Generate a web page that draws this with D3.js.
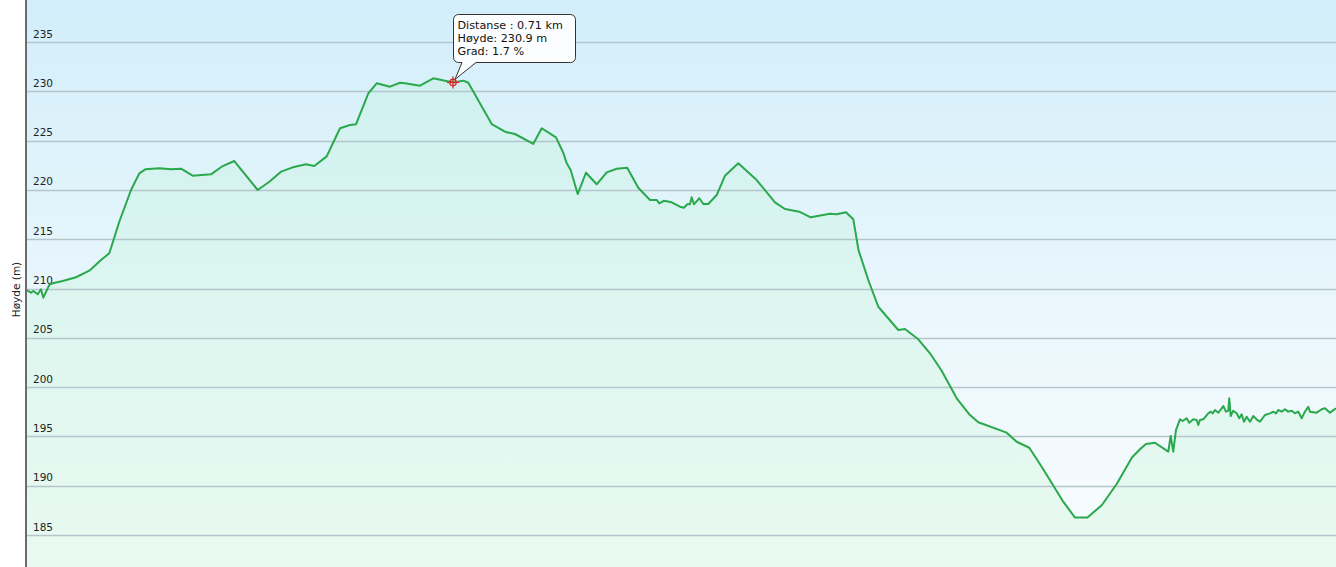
<!DOCTYPE html>
<html><head><meta charset="utf-8">
<script src="https://cdn.jsdelivr.net/npm/d3@7"></script>
<style>html,body{margin:0;padding:0;background:#fff;overflow:hidden}svg{display:block}</style>
</head><body><svg id="c" width="1336" height="567"></svg>
<script>
// distance along route (km)
const distanceKm = [0,0.0083,0.0121,0.0195,0.0249,0.0288,0.0387,0.0444,0.0610,0.0831,0.1053,0.1247,0.1385,0.1551,0.1746,0.1884,0.1984,0.2217,0.2411,0.2577,0.2772,0.3076,0.3271,0.3464,0.3853,0.4046,0.4240,0.4435,0.4656,0.4794,0.5000,0.5221,0.5387,0.5487,0.5692,0.5831,0.6053,0.6219,0.6302,0.6551,0.6773,0.71,0.7271,0.7355,0.7744,0.7965,0.8131,0.8435,0.8575,0.8813,0.8934,0.8991,0.9057,0.9174,0.9311,0.9490,0.9656,0.9822,0.9997,1.0181,1.0376,1.0487,1.0530,1.0609,1.0737,1.0874,1.0941,1.0996,1.1041,1.1069,1.1107,1.1196,1.1262,1.1345,1.1485,1.1623,1.1844,1.2150,1.2454,1.2620,1.2858,1.3048,1.3369,1.3480,1.3635,1.3756,1.3843,1.4006,1.4172,1.4505,1.4616,1.4837,1.5032,1.5226,1.5476,1.5697,1.5835,1.6307,1.6473,1.6683,1.6889,1.7248,1.7443,1.7650,1.7891,1.8136,1.8390,1.8523,1.8623,1.8773,1.8994,1.9034,1.9077,1.9122,1.9188,1.9233,1.9300,1.9343,1.9410,1.9466,1.9493,1.9521,1.9576,1.9659,1.9699,1.9732,1.9771,1.9826,1.9882,1.9909,1.9953,1.9992,2.0008,2.0032,2.0075,2.0131,2.0175,2.0214,2.0253,2.0298,2.0353,2.0407,2.0464,2.0519,2.0602,2.0685,2.0740,2.0785,2.0823,2.0880,2.0934,2.0989,2.1046,2.1101,2.1156,2.1212,2.1267,2.1322,2.1350,2.1462,2.1545,2.1600,2.1683,2.1783];
// elevation (m)
const elevationM = [209.85,209.57,209.75,209.41,209.92,209.07,210.36,210.53,210.76,211.14,211.81,212.89,213.57,216.77,219.99,221.68,222.09,222.19,222.09,222.15,221.44,221.58,222.42,222.93,219.99,220.83,221.85,222.29,222.60,222.42,223.40,226.25,226.58,226.65,229.80,230.81,230.47,230.87,230.81,230.57,231.32,230.9,231.08,230.87,226.68,225.90,225.67,224.66,226.25,225.33,223.77,222.70,222.02,219.58,221.74,220.57,221.78,222.15,222.25,220.22,218.98,218.98,218.64,218.90,218.74,218.30,218.19,218.54,218.54,219.25,218.54,219.15,218.57,218.57,219.48,221.44,222.70,221.00,218.74,218.06,217.79,217.22,217.59,217.53,217.74,217.03,213.90,210.86,208.15,205.79,205.89,204.85,203.43,201.66,198.86,197.17,196.43,195.38,194.46,193.85,191.93,188.38,186.77,186.77,188.04,190.17,192.86,193.69,194.23,194.36,193.45,195.04,193.45,195.65,196.73,196.56,196.84,196.39,196.73,196.66,196.16,196.66,196.73,197.34,197.51,197.34,197.68,197.40,197.85,198.08,197.51,197.61,198.86,197.07,197.61,197.34,196.84,197.24,196.49,197.00,196.49,197.07,196.73,196.49,197.17,197.34,197.51,197.34,197.68,197.51,197.75,197.51,197.61,197.34,197.51,196.84,197.51,198.01,197.51,197.41,197.75,197.85,197.41,197.85];
const yTicks = [185,190,195,200,205,210,215,220,225,230,235];
const yTitle = "Høyde (m)";
const tipLines = ["Distanse : 0.71 km","Høyde: 230.9 m","Grad: 1.7 %"];
const tipDistance = 0.71, tipElevation = 230.9;

const W = 1336, H = 567, left = 26;
const svg = d3.select("#c");
const x = d3.scaleLinear().domain([0, d3.max(distanceKm)]).range([left, W]);
const y = d3.scaleLinear().domain([181.755, 239.26]).range([H, 0]);
const data = distanceKm.map((d,i)=>({d, e: elevationM[i]}));

const defs = svg.append("defs");
const bg = defs.append("linearGradient").attr("id","bg").attr("x1",0).attr("y1",0).attr("x2",0).attr("y2",1);
bg.append("stop").attr("offset","0%").attr("stop-color","#d2eefa");
bg.append("stop").attr("offset","55%").attr("stop-color","#eaf7fc");
bg.append("stop").attr("offset","100%").attr("stop-color","#f9fcfe");
const ag = defs.append("linearGradient").attr("id","ag").attr("gradientUnits","userSpaceOnUse")
  .attr("x1",0).attr("y1",0).attr("x2",0).attr("y2",H);
ag.append("stop").attr("offset","0%").attr("stop-color","#b0f0cc").attr("stop-opacity",0.2);
ag.append("stop").attr("offset","100%").attr("stop-color","#d0f7dc").attr("stop-opacity",0.4);

svg.append("rect").attr("x",left).attr("y",0).attr("width",W-left).attr("height",H).attr("fill","url(#bg)");

svg.append("path").datum(data)
  .attr("fill","url(#ag)")
  .attr("d", d3.area().x(p=>x(p.d)).y0(H).y1(p=>y(p.e)));

// grid lines
svg.append("g").selectAll("line").data(yTicks).join("line")
  .attr("x1",left).attr("x2",W)
  .attr("y1",t=>Math.round(y(t))+0.5).attr("y2",t=>Math.round(y(t))+0.5)
  .attr("stroke","#b4c6cc").attr("stroke-width",1.3);

// tick labels
svg.append("g").selectAll("text").data(yTicks).join("text")
  .attr("x",33).attr("y",t=>y(t)-4.5)
  .attr("font-family","'DejaVu Sans', Verdana, sans-serif").attr("font-size","10.5px")
  .attr("fill","#222").text(t=>t);

// elevation line
svg.append("path").datum(data)
  .attr("fill","none").attr("stroke","#2aa84c").attr("stroke-width",2).attr("stroke-linejoin","round")
  .attr("d", d3.line().x(p=>x(p.d)).y(p=>y(p.e)));

// axis line
svg.append("line").attr("x1",left).attr("x2",left).attr("y1",0).attr("y2",H)
  .attr("stroke","#6b6b6b").attr("stroke-width",2);

// y title
svg.append("text").attr("transform",`translate(20,${H/2+6}) rotate(-90)`)
  .attr("text-anchor","middle").attr("font-family","'DejaVu Sans', Verdana, sans-serif")
  .attr("font-size","10.5px").attr("fill","#222").text(yTitle);

// marker
const mx = x(tipDistance), my = y(tipElevation);
const mk = svg.append("g").attr("stroke","#e0282c").attr("fill","none").attr("stroke-width",1.3);
mk.append("circle").attr("cx",mx).attr("cy",my).attr("r",3.2);
mk.append("line").attr("x1",mx-6).attr("x2",mx+6).attr("y1",my).attr("y2",my);
mk.append("line").attr("x1",mx).attr("x2",mx).attr("y1",my-6).attr("y2",my+6);

// tooltip
const bx = 453.5, by = 14.5, bw = 122, bh = 48, r = 5;
const tx1 = 462, tx2 = 476, tipX = mx+2, tipY = my-3;
const p = d3.path();
p.moveTo(bx+r, by); p.lineTo(bx+bw-r, by); p.arcTo(bx+bw, by, bx+bw, by+r, r);
p.lineTo(bx+bw, by+bh-r); p.arcTo(bx+bw, by+bh, bx+bw-r, by+bh, r);
p.lineTo(tx2, by+bh); p.lineTo(tipX, tipY); p.lineTo(tx1, by+bh);
p.lineTo(bx+r, by+bh); p.arcTo(bx, by+bh, bx, by+bh-r, r);
p.lineTo(bx, by+r); p.arcTo(bx, by, bx+r, by, r); p.closePath();
svg.append("path").attr("d",p.toString()).attr("fill","#fbfdfe").attr("stroke","#333").attr("stroke-width",1);
svg.append("g").selectAll("text").data(tipLines).join("text")
  .attr("x",457.5).attr("y",(d,i)=>29+i*13)
  .attr("font-family","'DejaVu Sans', Verdana, sans-serif").attr("font-size","11.2px")
  .attr("fill","#111").text(d=>d);
</script></body></html>
